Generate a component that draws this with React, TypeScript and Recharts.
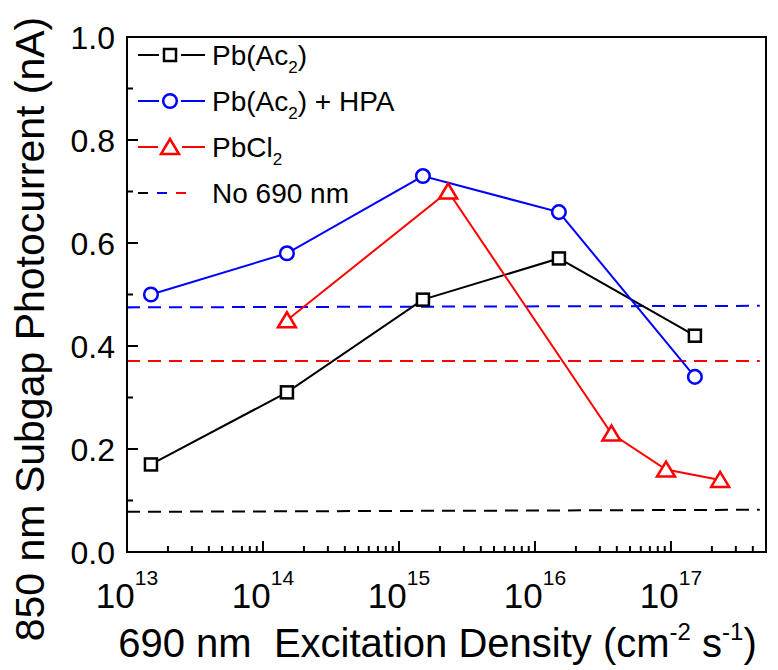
import React from 'react';
import { ComposedChart, Line, XAxis, YAxis, ReferenceArea, Legend } from 'recharts';

// ---- data ----
const pbAcX = [1.5e13, 1.5e14, 1.5e15, 1.5e16, 1.5e17];
const pbAcY = [0.17, 0.31, 0.49, 0.57, 0.42];
const hpaX = [1.5e13, 1.5e14, 1.5e15, 1.5e16, 1.5e17];
const hpaY = [0.5, 0.58, 0.73, 0.66, 0.34];
const pbcl2X = [1.5e14, 2.3e15, 3.65e16, 9.2e16, 2.3e17];
const pbcl2Y = [0.45, 0.7, 0.23, 0.16, 0.14];
const baseX = [1e13, 4.5e17];
const baseBlackY = [0.078, 0.082];
const baseBlueY = [0.475, 0.478];
const baseRedY = [0.371, 0.371];

const xMajorTicks = [1e13, 1e14, 1e15, 1e16, 1e17];
const xMinorMultipliers = [2, 3, 4, 5, 6, 7, 8, 9];
const xMajorExponents = ['13', '14', '15', '16', '17'];
const yMajorTicks = [0, 0.2, 0.4, 0.6, 0.8, 1.0];
const yMinorTicks = [0.1, 0.3, 0.5, 0.7, 0.9];
const yTickLabels = ['0.0', '0.2', '0.4', '0.6', '0.8', '1.0'];

const X_DOMAIN: [number, number] = [1e13, 5e17];

const xMinorTicks: number[] = [];
xMajorTicks.forEach((d) => {
  xMinorMultipliers.forEach((m) => {
    const v = d * m;
    if (v < X_DOMAIN[1] * 0.999) xMinorTicks.push(v);
  });
});
const xTicks = [...xMajorTicks, ...xMinorTicks].sort((a, b) => a - b);
const yTicks = [...yMajorTicks, ...yMinorTicks].sort((a, b) => a - b);

const zip = (xs: number[], ys: number[]) => xs.map((x, i) => ({ x, y: ys[i] }));
const pbAcData = zip(pbAcX, pbAcY);
const hpaData = zip(hpaX, hpaY);
const pbcl2Data = zip(pbcl2X, pbcl2Y);
const baseBlack = zip(baseX, baseBlackY);
const baseBlue = zip(baseX, baseBlueY);
const baseRed = zip(baseX, baseRedY);

const FONT = '"Liberation Sans", Arial, Helvetica, sans-serif';
const BLUE = '#0000ff';
const RED = '#ff0000';

const isMajorX = (v: number) => xMajorTicks.some((m) => Math.abs(v / m - 1) < 1e-6);
const isMajorY = (v: number) => yMajorTicks.some((m) => Math.abs(v - m) < 1e-6);

const XTick = (props: any) => {
  const { x, y, payload } = props;
  const v = payload.value;
  const major = isMajorX(v);
  const idx = xMajorTicks.findIndex((m) => Math.abs(v / m - 1) < 1e-6);
  return (
    <g>
      <line x1={x} x2={x} y1={y} y2={y - (major ? 11 : 6)} stroke="#000" strokeWidth={2} />
      {major && (
        <text x={x} y={y + 56} textAnchor="middle" fontFamily={FONT} fontSize={35} fill="#000">
          10
          <tspan fontSize={21} dy={-23}>{xMajorExponents[idx]}</tspan>
        </text>
      )}
    </g>
  );
};

const YTick = (props: any) => {
  const { x, y, payload } = props;
  const v = payload.value;
  const major = isMajorY(v);
  const idx = yMajorTicks.findIndex((m) => Math.abs(v - m) < 1e-6);
  return (
    <g>
      <line x1={x} x2={x + (major ? 11 : 6)} y1={y} y2={y} stroke="#000" strokeWidth={2} />
      {major && (
        <text x={x - 12} y={y} dy="0.36em" textAnchor="end" fontFamily={FONT} fontSize={32} fill="#000">
          {yTickLabels[idx]}
        </text>
      )}
    </g>
  );
};

const SquareDot = (props: any) => {
  const { cx, cy, index } = props;
  if (cx == null || cy == null) return <g key={`s${index}`} />;
  return <rect key={`s${index}`} x={cx - 6} y={cy - 6} width={12} height={12} fill="#fff" stroke="#000" strokeWidth={2.5} />;
};
const CircleDot = (props: any) => {
  const { cx, cy, index } = props;
  if (cx == null || cy == null) return <g key={`c${index}`} />;
  return <circle key={`c${index}`} cx={cx} cy={cy} r={6.8} fill="#fff" stroke={BLUE} strokeWidth={2.5} />;
};
const TriDot = (props: any) => {
  const { cx, cy, index } = props;
  if (cx == null || cy == null) return <g key={`t${index}`} />;
  const pts = `${cx},${cy - 8} ${cx - 9},${cy + 7} ${cx + 9},${cy + 7}`;
  return <polygon key={`t${index}`} points={pts} fill="#fff" stroke={RED} strokeWidth={2.5} strokeLinejoin="miter" />;
};

const LegendContent = () => {
  const rows = [20, 66, 112, 158];
  const tx = 82;
  return (
    <svg width={300} height={185} style={{ display: 'block', overflow: 'visible' }}>
      <g fontFamily={FONT} fontSize={28} fill="#000">
        <line x1={8} x2={29} y1={rows[0]} y2={rows[0]} stroke="#000" strokeWidth={2} />
        <line x1={51} x2={75} y1={rows[0]} y2={rows[0]} stroke="#000" strokeWidth={2} />
        <rect x={34} y={rows[0] - 6} width={12} height={12} fill="#fff" stroke="#000" strokeWidth={2.5} />
        <text x={tx} y={rows[0] + 10}>
          Pb(Ac<tspan fontSize={17} dy={8}>2</tspan><tspan dy={-8}>)</tspan>
        </text>
        <line x1={8} x2={29} y1={rows[1]} y2={rows[1]} stroke={BLUE} strokeWidth={2} />
        <line x1={51} x2={75} y1={rows[1]} y2={rows[1]} stroke={BLUE} strokeWidth={2} />
        <circle cx={40} cy={rows[1]} r={6.8} fill="#fff" stroke={BLUE} strokeWidth={2.5} />
        <text x={tx} y={rows[1] + 10}>
          Pb(Ac<tspan fontSize={17} dy={8}>2</tspan><tspan dy={-8}>) + HPA</tspan>
        </text>
        <line x1={8} x2={28} y1={rows[2]} y2={rows[2]} stroke={RED} strokeWidth={2} />
        <line x1={52} x2={75} y1={rows[2]} y2={rows[2]} stroke={RED} strokeWidth={2} />
        <polygon points={`40,${rows[2] - 8} 31,${rows[2] + 7} 49,${rows[2] + 7}`} fill="#fff" stroke={RED} strokeWidth={2.5} />
        <text x={tx} y={rows[2] + 10}>
          PbCl<tspan fontSize={17} dy={8}>2</tspan>
        </text>
        <line x1={8} x2={18} y1={rows[3]} y2={rows[3]} stroke="#000" strokeWidth={2} />
        <line x1={27} x2={37} y1={rows[3]} y2={rows[3]} stroke={BLUE} strokeWidth={2} />
        <line x1={46} x2={56} y1={rows[3]} y2={rows[3]} stroke={RED} strokeWidth={2} />
        <text x={tx} y={rows[3] + 10}>No 690 nm</text>
      </g>
    </svg>
  );
};

const XLabel = (props: any) => {
  const vb = props.viewBox || {};
  const cx = (vb.x ?? 127) + (vb.width ?? 639) / 2 - 9;
  return (
    <text x={cx} y={657} textAnchor="middle" fontFamily={FONT} fontSize={40} fill="#000" style={{ whiteSpace: 'pre' }}>
      {'690 nm  Excitation Density (cm'}
      <tspan fontSize={24} dy={-17}>-2</tspan>
      <tspan dy={17}>{' s'}</tspan>
      <tspan fontSize={24} dy={-17}>-1</tspan>
      <tspan dy={17}>)</tspan>
    </text>
  );
};

const YLabel = () => {
  const cy = 329;
  const x = 44;
  return (
    <text x={x} y={cy} transform={`rotate(-90, ${x}, ${cy})`} textAnchor="middle" fontFamily={FONT} fontSize={41} fill="#000">
      850 nm Subgap Photocurrent (nA)
    </text>
  );
};

export default function App() {
  return (
    <div style={{ position: 'absolute', left: 0, top: 0, width: 778, height: 670, background: '#fff' }}>
      <ComposedChart width={778} height={670} margin={{ top: 37, right: 12, bottom: 58, left: 67 }}>
        <XAxis
          dataKey="x"
          type="number"
          scale="log"
          domain={X_DOMAIN}
          allowDataOverflow
          ticks={xTicks}
          interval={0}
          tick={<XTick />}
          tickLine={false}
          tickSize={0}
          tickMargin={0}
          height={60}
          axisLine={{ stroke: '#000', strokeWidth: 2 }}
          label={<XLabel />}
        />
        <YAxis
          type="number"
          domain={[0, 1]}
          allowDataOverflow
          ticks={yTicks}
          interval={0}
          tick={<YTick />}
          tickLine={false}
          tickSize={0}
          tickMargin={0}
          width={60}
          axisLine={{ stroke: '#000', strokeWidth: 2 }}
          label={<YLabel />}
        />
        <ReferenceArea x1={X_DOMAIN[0]} x2={X_DOMAIN[1]} y1={0} y2={1} fill="none" fillOpacity={0} stroke="#000" strokeWidth={2} ifOverflow="visible" />
        <Line data={baseBlack} dataKey="y" stroke="#000" strokeWidth={2} strokeDasharray="13 8" dot={false} activeDot={false} isAnimationActive={false} legendType="none" />
        <Line data={baseRed} dataKey="y" stroke={RED} strokeWidth={2} strokeDasharray="13 8" dot={false} activeDot={false} isAnimationActive={false} legendType="none" />
        <Line data={baseBlue} dataKey="y" stroke={BLUE} strokeWidth={2} strokeDasharray="13 8" dot={false} activeDot={false} isAnimationActive={false} legendType="none" />
        <Line data={pbAcData} dataKey="y" name="Pb(Ac2)" stroke="#000" strokeWidth={2} dot={SquareDot} activeDot={false} isAnimationActive={false} />
        <Line data={hpaData} dataKey="y" name="Pb(Ac2) + HPA" stroke={BLUE} strokeWidth={2} dot={CircleDot} activeDot={false} isAnimationActive={false} />
        <Line data={pbcl2Data} dataKey="y" name="PbCl2" stroke={RED} strokeWidth={2} dot={TriDot} activeDot={false} isAnimationActive={false} />
        <Legend
          layout="vertical"
          align="center"
          verticalAlign="middle"
          content={<LegendContent />}
          wrapperStyle={{ position: 'absolute', left: 130, top: 35, width: 300, height: 185 }}
        />
      </ComposedChart>
    </div>
  );
}
